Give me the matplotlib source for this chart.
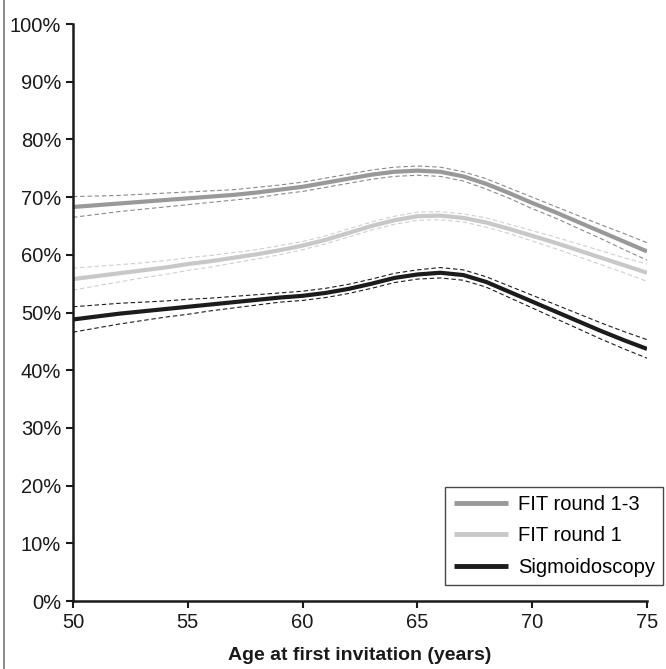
import matplotlib
matplotlib.use("Agg")
import matplotlib.pyplot as plt
from matplotlib.lines import Line2D
from matplotlib.ticker import PercentFormatter

# age at first invitation (years)
ages = list(range(50, 76))

# adherence (%), one value per year
fit13 = [68.3, 68.6, 68.9, 69.2, 69.5, 69.8, 70.1, 70.4, 70.8, 71.3, 71.8, 72.5, 73.2,
         73.9, 74.4, 74.6, 74.4, 73.6, 72.3, 70.7, 69.0, 67.4, 65.7, 64.0, 62.3, 60.6]
fit1 = [55.8, 56.3, 56.8, 57.3, 57.8, 58.4, 58.9, 59.5, 60.1, 60.8, 61.6, 62.6, 63.8,
        65.0, 66.0, 66.7, 66.8, 66.4, 65.6, 64.5, 63.3, 62.1, 60.8, 59.5, 58.2, 56.9]
sigmo = [48.8, 49.3, 49.8, 50.2, 50.6, 51.0, 51.4, 51.8, 52.2, 52.6, 52.9, 53.4, 54.1,
         55.0, 56.0, 56.6, 56.9, 56.5, 55.3, 53.6, 51.9, 50.2, 48.5, 46.8, 45.2, 43.7]

# half width of the 95% band (percentage points)
fit13_ci = [1.8, 1.6, 1.4, 1.3, 1.2, 1.1, 1.0, 0.9, 0.9, 0.8, 0.8, 0.8, 0.8,
            0.8, 0.8, 0.8, 0.8, 0.8, 0.9, 0.9, 1.0, 1.0, 1.1, 1.2, 1.4, 1.5]
fit1_ci = [1.9, 1.7, 1.5, 1.3, 1.2, 1.1, 1.0, 0.9, 0.8, 0.8, 0.7, 0.7, 0.7,
           0.7, 0.7, 0.7, 0.7, 0.7, 0.8, 0.8, 0.9, 1.0, 1.1, 1.2, 1.3, 1.5]
sigmo_ci = [2.2, 2.0, 1.8, 1.6, 1.4, 1.3, 1.1, 1.0, 0.9, 0.8, 0.8, 0.8, 0.8,
            0.8, 0.8, 0.8, 0.9, 0.9, 0.9, 1.0, 1.1, 1.2, 1.3, 1.4, 1.5, 1.6]

series = [
    ("FIT round 1-3", fit13, fit13_ci, "#999999", "#8a8a8a"),
    ("FIT round 1", fit1, fit1_ci, "#c8c8c8", "#cfcfcf"),
    ("Sigmoidoscopy", sigmo, sigmo_ci, "#1c1c1c", "#1c1c1c"),
]

plt.rcParams["font.family"] = ["Liberation Sans", "DejaVu Sans"]

fig = plt.figure(figsize=(6.66, 6.69), dpi=100)
ax = fig.add_axes([0.1096, 0.1016, 0.8619, 0.8624])

for label, vals, ci, color, ci_color in series:
    lo = [v - c for v, c in zip(vals, ci)]
    hi = [v + c for v, c in zip(vals, ci)]
    ax.plot(ages, lo, color=ci_color, lw=0.8, ls=(0, (4, 2.5)))
    ax.plot(ages, hi, color=ci_color, lw=0.8, ls=(0, (4, 2.5)))
    ax.plot(ages, vals, color=color, lw=3, label=label, solid_capstyle="butt")

ax.set_xlim(50, 75)
ax.set_ylim(0, 100)
ax.set_xticks(range(50, 76, 5))
ax.set_yticks(range(0, 101, 10))
ax.yaxis.set_major_formatter(PercentFormatter(decimals=0))
ax.tick_params(labelsize=14.5, length=5, width=1.5, color="#1a1a1a", labelcolor="#1a1a1a")
for side in ["top", "right"]:
    ax.spines[side].set_visible(False)
for side in ["left", "bottom"]:
    ax.spines[side].set_linewidth(1.8)
    ax.spines[side].set_color("#1a1a1a")
ax.set_xlabel("Age at first invitation (years)", fontsize=14, fontweight="bold",
              color="#1a1a1a", labelpad=11)

leg = ax.legend(loc="lower right", bbox_to_anchor=(663 / 666, 84 / 669),
                bbox_transform=fig.transFigure, borderaxespad=0, fontsize=14.5,
                fancybox=False, edgecolor="#1a1a1a", handlelength=2.7,
                handletextpad=0.5, labelspacing=0.62, borderpad=0.4)
leg.get_frame().set_linewidth(1.0)
for h in leg.get_lines():
    h.set_linewidth(3.5)

fig.add_artist(Line2D([4 / 666, 4 / 666], [0, 1], color="#777777", lw=1.2,
                      transform=fig.transFigure))

fig.savefig("out.png", dpi=100, facecolor="white")
